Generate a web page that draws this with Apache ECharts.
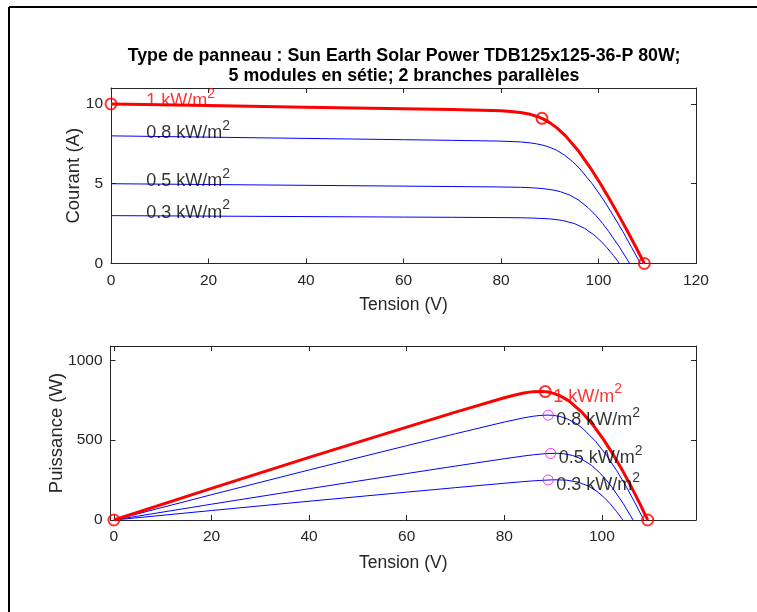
<!DOCTYPE html>
<html>
<head>
<meta charset="utf-8">
<script src="https://cdn.jsdelivr.net/npm/echarts@6/dist/echarts.min.js"></script>
<style>
html,body{margin:0;padding:0;background:#fff;}
#c{width:757px;height:612px;}
</style>
</head>
<body>
<div id="c"></div>
<script>
// ---- Data ----
// 1 kW/m2
const V_1000 = [0,20,40,60,70,80,82,84,86,87.57,88.37,89.03,90.14,91.47,93.25,96.02,98.32,100.4,102.34,104.19,105.97,107.71,109.4];
const I_1000 = [10,9.9,9.8,9.7,9.65,9.57,9.53,9.47,9.35,9.2,9.1,9.0,8.8,8.5,8.0,7.0,6.0,5.0,4.0,3.0,2.0,1.0,0];
const P_1000 = [0,198,392,582,675.5,765.6,781.5,795.5,804.1,805.6,804.2,801.3,793.2,777.5,746,672.1,589.9,502,409.4,312.6,211.9,107.7,0];
// 0.8 kW/m2
const V_800 = [0,20,40,60,70,80,84,86,87.3,88.8,89.85,91.4,93,94.65,96,98.7,101,103.05,105,106.8,108.6];
const I_800 = [8.0,7.92,7.84,7.76,7.72,7.67,7.62,7.56,7.5,7.4,7.3,7.1,6.8,6.4,6.0,5.0,4.0,3.0,2.0,1.0,0];
const P_800 = [0,158.4,313.6,465.6,540.4,613.6,640.1,650.2,654.8,657.1,655.9,648.9,632.4,605.8,576,493.5,404,309.2,210,106.8,0];
// 0.5 kW/m2
const V_500 = [0,20,40,60,70,80,84,86,88.43,90.82,92.22,94.0,95.79,97.87,99.48,100.87,102.11,104.36,106.4];
const I_500 = [5,4.95,4.9,4.85,4.825,4.796,4.774,4.752,4.7,4.6,4.5,4.3,4.0,3.5,3.0,2.5,2.0,1.0,0];
const P_500 = [0,99,196,291,337.8,383.7,401,408.7,415.6,417.8,415,404.2,383.2,342.5,298.4,252.2,204.2,104.4,0];
// 0.3 kW/m2
const V_300 = [0,20,40,60,70,80,84,86.28,89.92,92.62,95.08,97.17,99.04,100.49,101.71,103.07,104.3];
const I_300 = [3,2.97,2.94,2.91,2.895,2.878,2.866,2.85,2.8,2.7,2.5,2.2,1.8,1.4,1.0,0.5,0];
const P_300 = [0,59.4,117.6,174.6,202.7,230.2,240.7,245.9,251.8,250.1,237.7,213.8,178.3,140.7,101.7,51.5,0];

// Marked points (red: 1 kW/m2 ; magenta: maximum power points of the other irradiances)
const redIV_V = [0, 88.4, 109.4];
const redIV_I = [10.0, 9.1, 0];
const redPV_V = [0, 88.4, 109.4];
const redPV_P = [0, 804.2, 0];
const mppV = [89.0, 89.5, 89.0];
const mppP = [657, 417, 251];

// Labels
const irrLabels = ['1 kW/m', '0.8 kW/m', '0.5 kW/m', '0.3 kW/m'];
const labelV = 7.2;
const labelI = [10.0, 8.0, 5.0, 3.0];
const labelPV_V = [88.4, 89.0, 89.5, 89.0];
const labelPV_P = [804.2, 657, 417, 251];

// Axis ticks
const xTicksTop = [0,20,40,60,80,100,120];
const yTicksTop = [0,5,10];
const xTicksBot = [0,20,40,60,80,100];
const yTicksBot = [0,500,1000];

const titleText = 'Type de panneau : Sun Earth Solar Power TDB125x125-36-P 80W;\n5 modules en sétie; 2 branches parallèles';

// ---- Build ----
const FONT = "'Liberation Sans', Arial, Helvetica, sans-serif";
const AX = '#262626';
const pair = (xs, ys) => xs.map((x, i) => [x, ys[i]]);
const plain = v => String(v);

function xAxisDef(grid, min, max, ticks, pos, name, nameGap) {
  const main = pos === 'bottom';
  return {
    type: 'value', gridIndex: grid, position: pos, min: min, max: max,
    name: main ? name : '', nameLocation: 'middle', nameGap: nameGap,
    nameTextStyle: {fontFamily: FONT, fontSize: 17.5, color: AX},
    axisLine: {show: true, onZero: false, lineStyle: {color: AX, width: 1}},
    axisTick: {show: true, inside: true, length: 5, customValues: ticks, lineStyle: {color: AX}},
    axisLabel: {show: main, customValues: ticks, formatter: plain, fontFamily: FONT, fontSize: 15.5, color: AX, margin: 9},
    splitLine: {show: false}
  };
}
function yAxisDef(grid, min, max, ticks, pos, name, nameGap) {
  const main = pos === 'left';
  return {
    type: 'value', gridIndex: grid, position: pos, min: min, max: max,
    name: main ? name : '', nameLocation: 'middle', nameGap: nameGap, nameMoveOverlap: false,
    nameTextStyle: {fontFamily: FONT, fontSize: 18.5, color: AX},
    axisLine: {show: true, onZero: false, lineStyle: {color: AX, width: 1}},
    axisTick: {show: true, inside: true, length: 5, customValues: ticks, lineStyle: {color: AX}},
    axisLabel: {show: main, customValues: ticks, formatter: plain, fontFamily: FONT, fontSize: 15.5, color: AX, margin: 8},
    splitLine: {show: false}
  };
}

function rich(color) {
  return {
    a: {fontFamily: FONT, fontSize: 18, color: color, lineHeight: 18, verticalAlign: 'bottom'},
    s: {fontFamily: FONT, fontSize: 14, color: color, lineHeight: 14, padding: [0,0,9,0], verticalAlign: 'bottom'}
  };
}

const series = [];
const curves = [
  {V: V_800, I: I_800, P: P_800},
  {V: V_500, I: I_500, P: P_500},
  {V: V_300, I: I_300, P: P_300}
];
curves.forEach(c => {
  series.push({type: 'line', xAxisIndex: 0, yAxisIndex: 0, data: pair(c.V, c.I), showSymbol: false,
    smooth: false, lineStyle: {color: '#0000ff', width: 1}, silent: true, z: 2});
  series.push({type: 'line', xAxisIndex: 2, yAxisIndex: 2, data: pair(c.V, c.P), showSymbol: false,
    smooth: false, lineStyle: {color: '#0000ff', width: 1}, silent: true, z: 2});
});
series.push({type: 'line', xAxisIndex: 0, yAxisIndex: 0, data: pair(V_1000, I_1000), showSymbol: false,
  smooth: false, lineStyle: {color: '#ff0000', width: 3, join: 'round'}, silent: true, z: 3});
series.push({type: 'line', xAxisIndex: 2, yAxisIndex: 2, data: pair(V_1000, P_1000), showSymbol: false,
  smooth: false, lineStyle: {color: '#ff0000', width: 3, join: 'round'}, silent: true, z: 3});

// markers
series.push({type: 'scatter', xAxisIndex: 0, yAxisIndex: 0, data: pair(redIV_V, redIV_I), symbol: 'circle',
  symbolSize: 11, itemStyle: {color: 'rgba(0,0,0,0)', borderColor: '#ff0000', borderWidth: 2}, z: 4, silent: true});
series.push({type: 'scatter', xAxisIndex: 2, yAxisIndex: 2, data: pair(redPV_V, redPV_P), symbol: 'circle',
  symbolSize: 11, itemStyle: {color: 'rgba(0,0,0,0)', borderColor: '#ff0000', borderWidth: 2}, z: 4, silent: true});
series.push({type: 'scatter', xAxisIndex: 2, yAxisIndex: 2, data: pair(mppV, mppP), symbol: 'circle',
  symbolSize: 10, itemStyle: {color: 'rgba(0,0,0,0)', borderColor: '#ff00ff', borderWidth: 1}, z: 4, silent: true});

// labels
irrLabels.forEach((t, i) => {
  const col = i === 0 ? '#ff0000' : '#000000';
  series.push({type: 'scatter', xAxisIndex: 0, yAxisIndex: 0, data: [[labelV, labelI[i]]], symbolSize: 0.1,
    itemStyle: {color: 'rgba(0,0,0,0)'}, silent: true, z: 5,
    label: {show: true, position: 'right', distance: 0, offset: [0, -3],
      formatter: '{a|' + t + '}{s|2}', rich: rich(col)}});
  series.push({type: 'scatter', xAxisIndex: 2, yAxisIndex: 2, data: [[labelPV_V[i], labelPV_P[i]]], symbolSize: 0.1,
    itemStyle: {color: 'rgba(0,0,0,0)'}, silent: true, z: 5,
    label: {show: true, position: 'right', distance: 8, offset: [0, 5],
      formatter: '{a|' + t + '}{s|2}', rich: rich(col)}});
});

const option = {
  animation: false,
  backgroundColor: '#ffffff',
  title: {text: titleText, left: 399, textAlign: 'center', top: 41,
    textStyle: {fontFamily: FONT, fontSize: 17.8, fontWeight: 'bold', color: '#000', lineHeight: 20}},
  grid: [
    {left: 111, top: 88, width: 585, height: 175.5},
    {left: 110.5, top: 346, width: 585.5, height: 174}
  ],
  xAxis: [
    xAxisDef(0, 0, 120, xTicksTop, 'bottom', 'Tension (V)', 33),
    xAxisDef(0, 0, 120, xTicksTop, 'top', '', 0),
    xAxisDef(1, -0.7, 119.3, xTicksBot, 'bottom', 'Tension (V)', 34),
    xAxisDef(1, -0.7, 119.3, xTicksBot, 'top', '', 0)
  ],
  yAxis: [
    yAxisDef(0, 0, 11, yTicksTop, 'left', 'Courant (A)', 28),
    yAxisDef(0, 0, 11, yTicksTop, 'right', '', 0),
    yAxisDef(1, 0, 1090, yTicksBot, 'left', 'Puissance (W)', 44),
    yAxisDef(1, 0, 1090, yTicksBot, 'right', '', 0)
  ],
  graphic: [
    {type: 'line', shape: {x1: 9, y1: 7, x2: 757, y2: 7}, style: {stroke: '#000', lineWidth: 2}, silent: true},
    {type: 'line', shape: {x1: 9, y1: 7, x2: 9, y2: 612}, style: {stroke: '#000', lineWidth: 2}, silent: true}
  ],
  series: series
};

const chart = echarts.init(document.getElementById('c'), null, {renderer: 'canvas'});
chart.setOption(option);
</script>
</body>
</html>
